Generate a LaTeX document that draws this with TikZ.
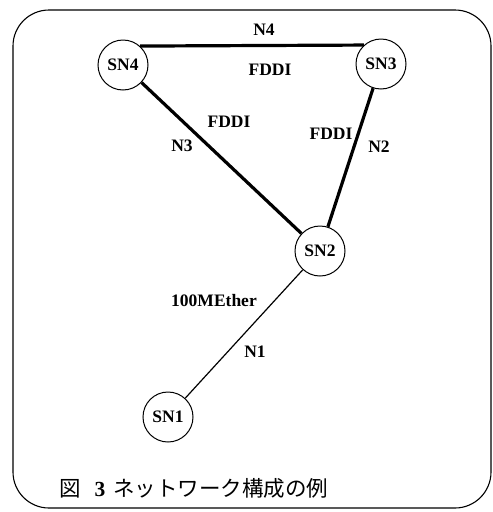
\documentclass[tikz,border=0pt]{standalone}
\usepackage{fontspec}
\setmainfont{Liberation Serif}
\newfontfamily\cjk{Noto Sans CJK JP}
\begin{document}
\begin{tikzpicture}[x=1pt,y=-1pt,
  sn/.style={circle,draw,line width=1pt,minimum size=50pt,inner sep=0pt,font=\fontsize{17.5}{20}\selectfont\bfseries},
  lbl/.style={font=\fontsize{17.5}{20}\selectfont\bfseries,inner sep=0pt},
  fat/.style={line width=3.2pt},
  thin/.style={line width=1.2pt}]
\useasboundingbox (0,0) rectangle (493,512);
\draw[line width=1.1pt,rounded corners=36pt] (13,10) rectangle (491,508);
\node[sn] (sn4) at (123,65) {SN4};
\node[sn] (sn3) at (381,64) {SN3};
\node[sn] (sn2) at (320,251) {SN2};
\node[sn] (sn1) at (168,417) {SN1};
\draw[fat] (sn4.48) -- (sn3.132);
\draw[fat] (sn4) -- (sn2);
\draw[fat] (sn3) -- (sn2);
\draw[thin] (sn2) -- (sn1);
\node[lbl] (n4) at (264,30) {N4};
\node[lbl] (f4) at (270,70) {FDDI};
\node[lbl] (f3) at (229,122) {FDDI};
\node[lbl] (n3) at (182,146) {N3};
\node[lbl] (f2) at (331,134) {FDDI};
\node[lbl] (n2) at (379,147) {N2};
\node[lbl] (eth) at (214,301) {100MEther};
\node[lbl] (n1) at (255,352) {N1};
\node[anchor=west,inner sep=0pt,font=\fontsize{21.5}{24}\selectfont] (cap) at (59,488) {\cjk 図\hspace{14pt}{\rmfamily\bfseries 3}\hspace{8pt}ネットワーク構成の例};
\end{tikzpicture}
\end{document}
